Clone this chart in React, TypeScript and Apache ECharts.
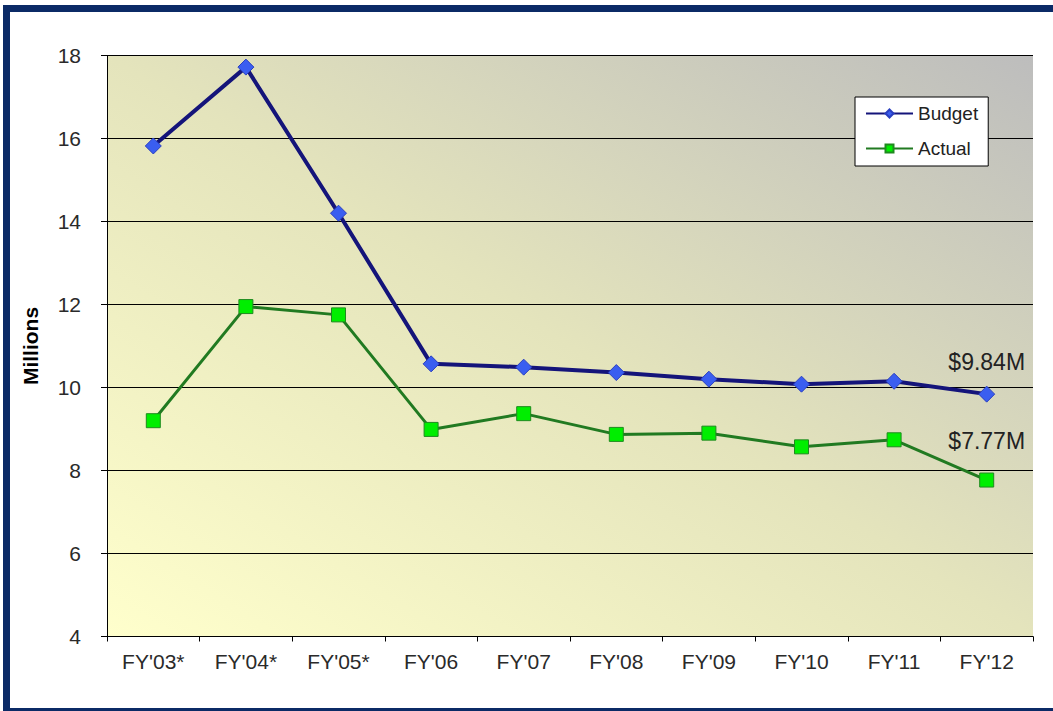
import React, { useEffect, useRef } from "react";
import * as echarts from "echarts";

const categories = ["FY'03*", "FY'04*", "FY'05*", "FY'06", "FY'07", "FY'08", "FY'09", "FY'10", "FY'11", "FY'12"];
const budget = [15.82, 17.72, 14.2, 10.57, 10.49, 10.36, 10.2, 10.08, 10.15, 9.84];
const actual = [9.2, 11.95, 11.75, 8.99, 9.37, 8.87, 8.9, 8.57, 8.74, 7.77];
const budgetLabel = "$9.84M";
const actualLabel = "$7.77M";

export default function App() {
  const ref = useRef<HTMLDivElement>(null);
  useEffect(() => {
    if (!ref.current) return;
    const chart = echarts.init(ref.current, null, { renderer: "svg" });
    const font = "Arial, 'Liberation Sans', sans-serif";
    const last = categories.length - 1;
    const navy = "#0b2a66";
    chart.setOption({
      animation: false,
      backgroundColor: "#ffffff",
      textStyle: { fontFamily: font },
      graphic: [
        { type: "rect", shape: { x: 3, y: 5, width: 7, height: 706 }, style: { fill: navy }, z: 100 },
        { type: "rect", shape: { x: 3, y: 5, width: 1050, height: 7 }, style: { fill: navy }, z: 100 },
        { type: "rect", shape: { x: 3, y: 708, width: 1050, height: 3 }, style: { fill: navy }, z: 100 },
      ],
      grid: {
        left: 107,
        right: 20,
        top: 55.5,
        bottom: 74.5,
        show: true,
        borderWidth: 0,
        backgroundColor: new echarts.graphic.LinearGradient(0, 1, 1, 0, [
          { offset: 0, color: "#ffffcc" },
          { offset: 0.5, color: "#e4e4bc" },
          { offset: 1, color: "#bdbdbd" },
        ]),
      },
      legend: {
        left: 855,
        top: 97,
        orient: "vertical",
        backgroundColor: "#ffffff",
        borderColor: "#000000",
        borderWidth: 1,
        borderRadius: 0,
        padding: [7, 10, 8, 10],
        itemWidth: 47,
        itemHeight: 10,
        itemGap: 16,
        textStyle: { fontFamily: font, fontSize: 19, color: "#222" },
        data: ["Budget", "Actual"],
      },
      xAxis: {
        type: "category",
        data: categories,
        boundaryGap: true,
        axisLine: { show: true, lineStyle: { color: "#000", width: 1 } },
        axisTick: { show: true, length: 5, lineStyle: { color: "#000" } },
        axisLabel: { fontFamily: font, fontSize: 21, color: "#2a2a2a", margin: 14 },
        splitLine: { show: false },
      },
      yAxis: {
        type: "value",
        min: 4,
        max: 18,
        interval: 2,
        name: "Millions",
        nameLocation: "middle",
        nameRotate: 90,
        nameGap: 66,
        nameTextStyle: { fontFamily: font, fontSize: 21, fontWeight: "bold", color: "#000" },
        axisLine: { show: true, lineStyle: { color: "#000", width: 1 } },
        axisTick: { show: true, length: 6, lineStyle: { color: "#000" } },
        axisLabel: { fontFamily: font, fontSize: 21, color: "#2a2a2a", margin: 26 },
        splitLine: { show: true, lineStyle: { color: "#000", width: 1 } },
      },
      series: [
        {
          name: "Budget",
          type: "line",
          data: budget.map((v, i) =>
            i === last
              ? {
                  value: v,
                  label: {
                    show: true,
                    position: "top",
                    distance: 12,
                    formatter: budgetLabel,
                    fontFamily: font,
                    fontSize: 23,
                    color: "#222",
                  },
                }
              : v
          ),
          symbol: "diamond",
          symbolSize: 16,
          itemStyle: { color: "#3a5ef0", borderColor: "#2a3fc0", borderWidth: 1 },
          lineStyle: { color: "#14147a", width: 4 },
          z: 3,
        },
        {
          name: "Actual",
          type: "line",
          data: actual.map((v, i) =>
            i === last
              ? {
                  value: v,
                  label: {
                    show: true,
                    position: "top",
                    distance: 20,
                    formatter: actualLabel,
                    fontFamily: font,
                    fontSize: 23,
                    color: "#222",
                  },
                }
              : v
          ),
          symbol: "rect",
          symbolSize: 14,
          itemStyle: { color: "#00ee00", borderColor: "#1f8a1f", borderWidth: 1 },
          lineStyle: { color: "#217a21", width: 3 },
          z: 2,
        },
      ],
    });
    return () => chart.dispose();
  }, []);
  return (
    <div
      ref={ref}
      style={{ position: "absolute", left: 0, top: 0, width: 1053, height: 711 }}
    />
  );
}
